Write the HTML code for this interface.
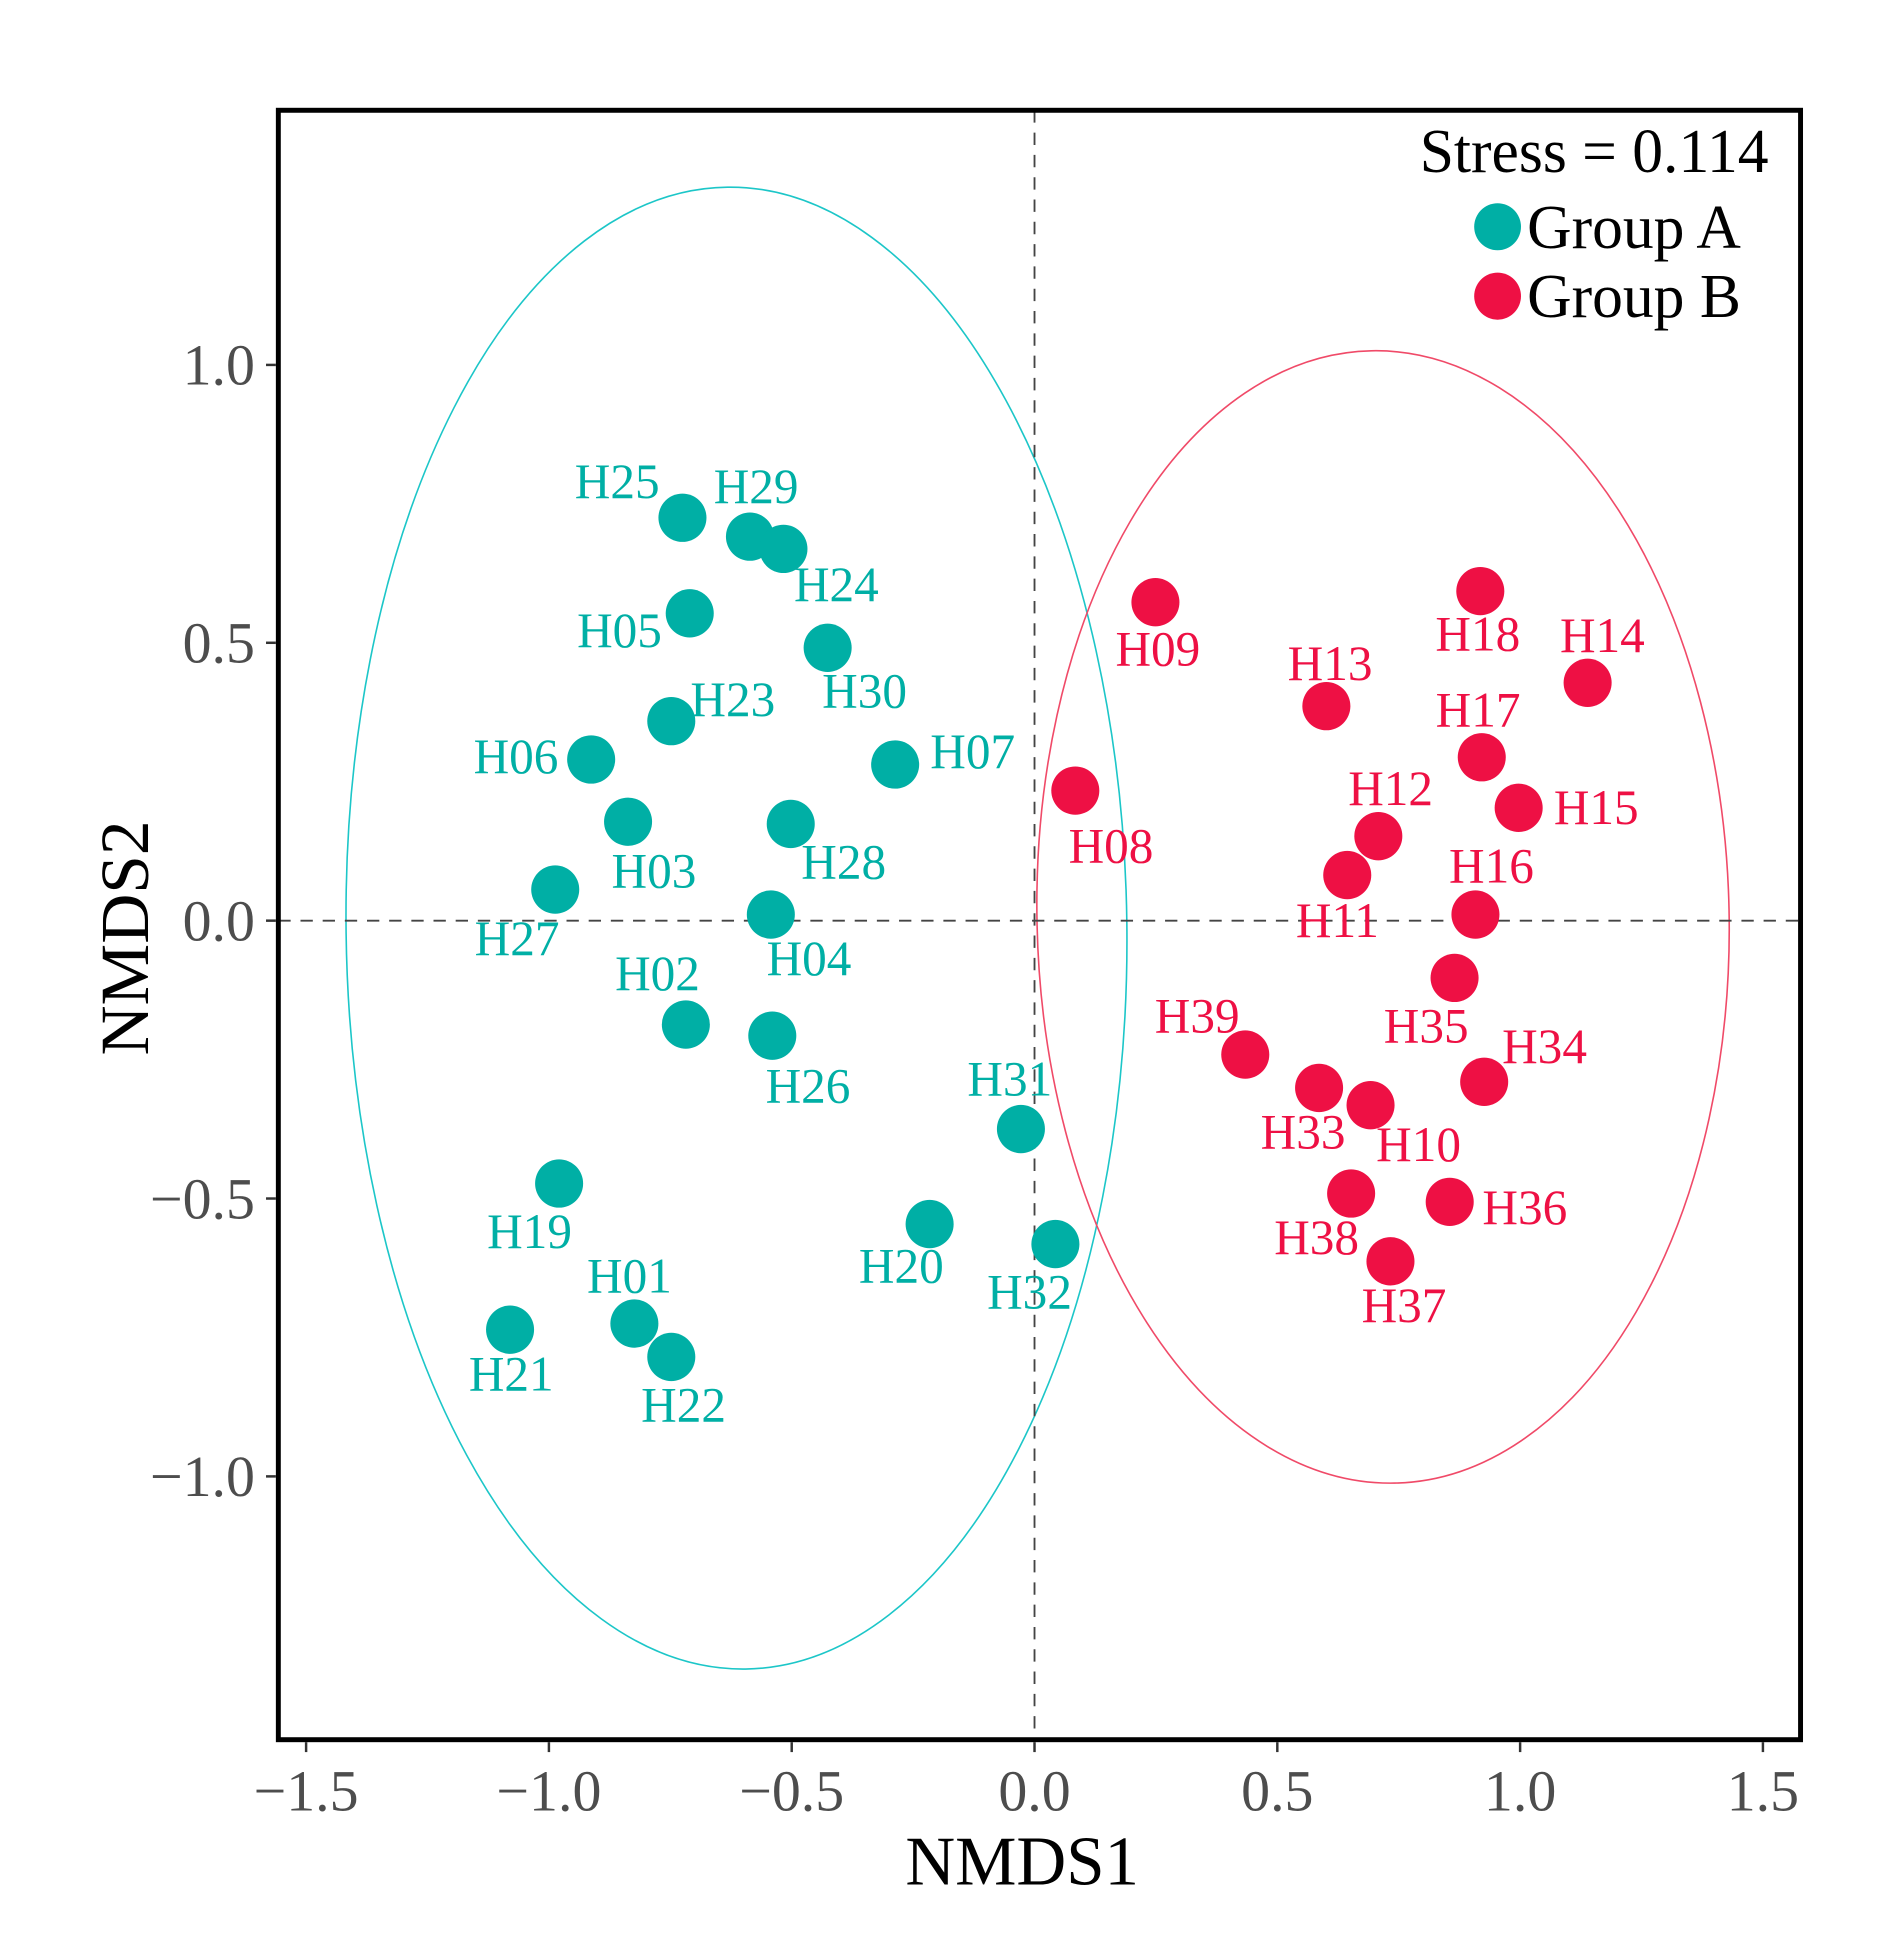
<!DOCTYPE html>
<html><head><meta charset="utf-8"><style>
html,body{margin:0;padding:0;background:#fff;}
svg{display:block;}
text{font-family:"Liberation Serif",serif;}
</style></head><body>
<svg id="chart" width="1904" height="1933" viewBox="0 0 1546 1560" preserveAspectRatio="none" xmlns="http://www.w3.org/2000/svg"></svg>
<script>
const namesA = ["H25","H29","H24","H05","H30","H23","H06","H07","H03","H28","H27","H04","H02","H26","H31","H19","H20","H32","H01","H21","H22"];
const xA = [-0.725,-0.586,-0.517,-0.710,-0.426,-0.748,-0.913,-0.287,-0.837,-0.502,-0.987,-0.543,-0.718,-0.540,-0.028,-0.979,-0.216,0.043,-0.824,-1.080,-0.748];
const yA = [0.725,0.691,0.669,0.553,0.491,0.359,0.290,0.281,0.178,0.174,0.056,0.011,-0.187,-0.207,-0.375,-0.473,-0.546,-0.582,-0.725,-0.736,-0.785];
const namesB = ["H09","H18","H14","H13","H17","H08","H15","H12","H11","H16","H35","H39","H34","H33","H10","H38","H36","H37"];
const xB = [0.249,0.918,1.139,0.601,0.921,0.084,0.997,0.708,0.644,0.908,0.865,0.434,0.926,0.586,0.692,0.652,0.855,0.733];
const yB = [0.573,0.593,0.428,0.386,0.294,0.234,0.203,0.152,0.082,0.011,-0.103,-0.241,-0.290,-0.301,-0.332,-0.491,-0.506,-0.613];
const xTicks = [-1.5,-1.0,-0.5,0.0,0.5,1.0,1.5];
const yTicks = [1.0,0.5,0.0,-0.5,-1.0];
const xTickLabels = ["\u22121.5","\u22121.0","\u22120.5","0.0","0.5","1.0","1.5"];
const yTickLabels = ["1.0","0.5","0.0","\u22120.5","\u22121.0"];
const stressLabel = "Stress = 0.114";

const offA = [[-53,-29],[5,-40],[43,29],[-57,14],[30,35],[50,-17],[-61,-2],[63,-10],[21,40],[43,31],[-31,40],[31,36],[-23,-41],[29,41],[-9,-40],[-24,39],[-23,34],[-21,39],[-4,-38],[1,36],[10,39]];
const offB = [[2,38],[-2,35],[12,-38],[3,-34],[-3,-38],[29,45],[63,0],[10,-38],[-8,37],[13,-39],[-23,39],[-39,-31],[49,-28],[-13,36],[39,32],[-28,36],[61,5],[11,36]];

const X = v => 840 + v*394.3;
const Y = v => 743 - v*448.5;
const NS="http://www.w3.org/2000/svg";
const svg=document.getElementById('chart');
function mk(tag,attrs,parent){const e=document.createElementNS(NS,tag);for(const k in attrs)e.setAttribute(k,attrs[k]);(parent||svg).appendChild(e);return e;}

const colA="#00AFA5", colB="#EE1044";

let e1=mk('ellipse',{cx:598,cy:749,rx:317,ry:598,fill:'none',stroke:'#1CC6C8','stroke-width':1.3,transform:'rotate(-0.7 598 749)'});


let e2=mk('ellipse',{cx:1123,cy:740,rx:281,ry:457,fill:'none',stroke:'#F04A68','stroke-width':1.3,transform:'rotate(-1.2 1123 740)'});



let v0=mk('line',{x1:X(0),x2:X(0),y1:89,y2:1404,stroke:'#444','stroke-width':1.5,'stroke-dasharray':'10,8'});


let h0=mk('line',{x1:226,x2:1462,y1:Y(0),y2:Y(0),stroke:'#444','stroke-width':1.5,'stroke-dasharray':'10,8'});



function drawGroup(names,xs,ys,offs,col){
  for(let i=0;i<names.length;i++){
    const c=mk('circle',{cx:X(xs[i]),cy:Y(ys[i]),r:19.5,fill:col});
    
    
    const t=mk('text',{x:X(xs[i])+offs[i][0],y:Y(ys[i])+offs[i][1]+13,'text-anchor':'middle','font-size':40,fill:col});
    t.textContent=names[i];
    
    
  }
}
drawGroup(namesA,xA,yA,offA,colA);
drawGroup(namesB,xB,yB,offB,colB);

let fr=mk('rect',{x:226,y:89,width:1236,height:1315,fill:'none',stroke:'#000','stroke-width':4});



xTicks.forEach((v,i)=>{
  const l=mk('line',{x1:X(v),x2:X(v),y1:1406,y2:1414,stroke:'#333','stroke-width':2});
  
  
  const t=mk('text',{x:X(v),y:1461,'text-anchor':'middle','font-size':47,fill:'#4d4d4d'});
  t.textContent=xTickLabels[i];
  
  
});
yTicks.forEach((v,i)=>{
  const l=mk('line',{x1:216,x2:224,y1:Y(v),y2:Y(v),stroke:'#333','stroke-width':2});
  
  
  const t=mk('text',{x:207,y:Y(v)+16,'text-anchor':'end','font-size':47,fill:'#4d4d4d'});
  t.textContent=yTickLabels[i];
  
  
});

let xt=mk('text',{x:830,y:1521,'text-anchor':'middle','font-size':56,fill:'#000'});
xt.textContent='NMDS1';


let yt=mk('text',{x:0,y:0,'text-anchor':'middle','font-size':56,fill:'#000',transform:'translate(120 757) rotate(-90)'});
yt.textContent='NMDS2';



let st=mk('text',{x:1436,y:139,'text-anchor':'end','font-size':50,fill:'#000'});
st.textContent=stressLabel;


let lc1=mk('circle',{cx:1216,cy:183,r:19,fill:colA});


let lt1=mk('text',{x:1240,y:200,'font-size':50,fill:'#000'});
lt1.textContent='Group A';


let lc2=mk('circle',{cx:1216,cy:239,r:19,fill:colB});


let lt2=mk('text',{x:1240,y:256,'font-size':50,fill:'#000'});
lt2.textContent='Group B';


</script>
</body></html>
